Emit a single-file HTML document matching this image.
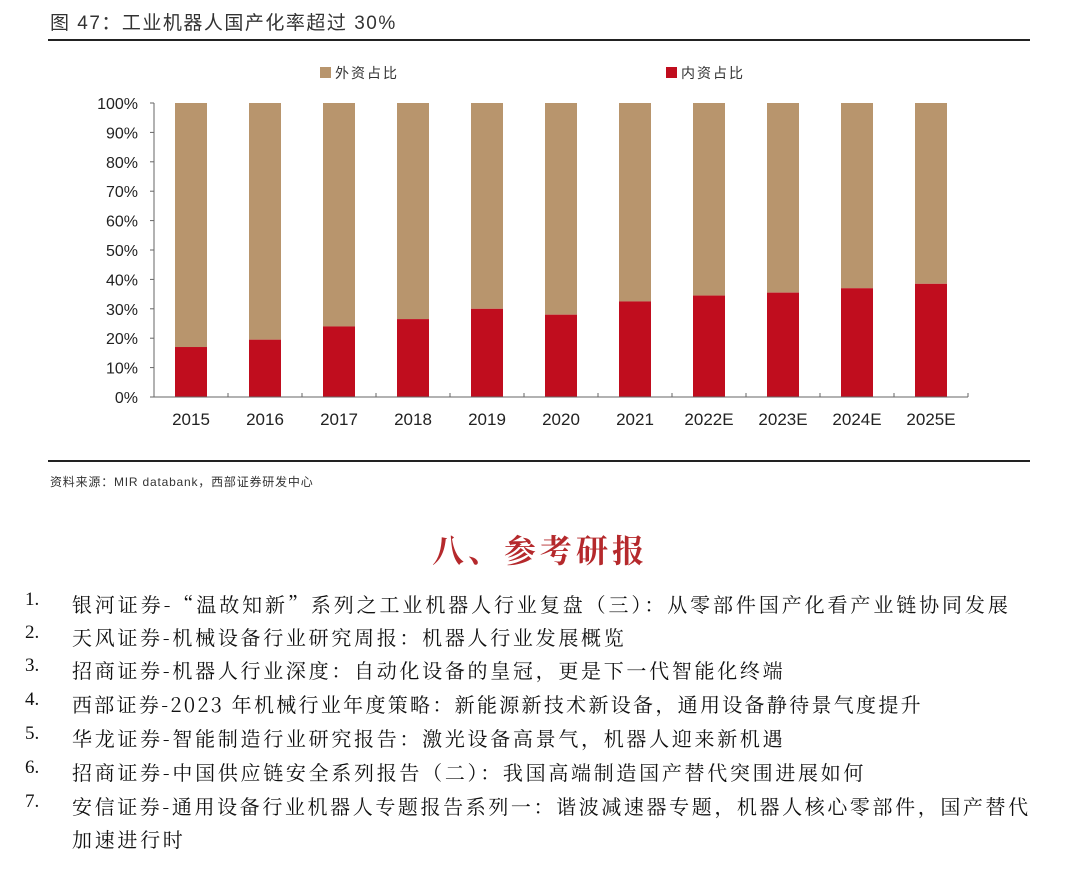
<!DOCTYPE html>
<html><head><meta charset="utf-8">
<style>
body{margin:0;width:1080px;height:879px;background:#fff;position:relative;overflow:hidden;font-family:"Liberation Sans","Noto Sans CJK SC",sans-serif;}
.abs{position:absolute;}
.li{position:absolute;left:0;font-family:"Noto Serif CJK SC","Liberation Serif",serif;font-size:20px;color:#111;white-space:nowrap;}
.li .n{position:absolute;left:25px;font-family:"Liberation Serif",serif;font-size:19px;}
.li .t{position:absolute;left:72px;letter-spacing:2.7px;}
</style></head><body>
<div class="abs" style="left:50px;top:8px;font-size:19px;color:#333;letter-spacing:1.5px;">图 47：工业机器人国产化率超过 30%</div>
<div class="abs" style="left:48px;top:39px;width:982px;height:2px;background:#222;"></div>
<svg class="abs" style="left:0;top:0" width="1080" height="470">
<g id="legend">
<rect x="320" y="67" width="11" height="11" fill="#b8956d"/>
<text x="335" y="78" font-size="14" fill="#333" letter-spacing="2" font-family="Noto Sans CJK SC,sans-serif">外资占比</text>
<rect x="666" y="67" width="11" height="11" fill="#c00d1e"/>
<text x="681" y="78" font-size="14" fill="#333" letter-spacing="2" font-family="Noto Sans CJK SC,sans-serif">内资占比</text>
</g>
<g id="plot"></g>
</svg>
<div class="abs" style="left:48px;top:460px;width:982px;height:2px;background:#222;"></div>
<div class="abs" style="left:50px;top:473px;font-size:12px;color:#333;letter-spacing:0.8px;">资料来源：MIR databank，西部证券研发中心</div>
<div class="abs" style="left:0;width:1080px;text-align:center;top:526px;font-family:'Liberation Serif','Noto Serif CJK SC',serif;font-size:32px;font-weight:bold;color:#b5292c;letter-spacing:4px;">八、参考研报</div>
<div>
<div class="li" style="top:589px"><span class="n">1.</span><span class="t" style="letter-spacing:2.9px">银河证券-“温故知新”系列之工业机器人行业复盘（三）：从零部件国产化看产业链协同发展</span></div>
<div class="li" style="top:622px"><span class="n">2.</span><span class="t">天风证券-机械设备行业研究周报：机器人行业发展概览</span></div>
<div class="li" style="top:655px"><span class="n">3.</span><span class="t">招商证券-机器人行业深度：自动化设备的皇冠，更是下一代智能化终端</span></div>
<div class="li" style="top:689px"><span class="n">4.</span><span class="t" style="letter-spacing:2.3px">西部证券-2023 年机械行业年度策略：新能源新技术新设备，通用设备静待景气度提升</span></div>
<div class="li" style="top:723px"><span class="n">5.</span><span class="t">华龙证券-智能制造行业研究报告：激光设备高景气，机器人迎来新机遇</span></div>
<div class="li" style="top:757px"><span class="n">6.</span><span class="t">招商证券-中国供应链安全系列报告（二）：我国高端制造国产替代突围进展如何</span></div>
<div class="li" style="top:791px"><span class="n">7.</span><span class="t" style="letter-spacing:2.6px">安信证券-通用设备行业机器人专题报告系列一：谐波减速器专题，机器人核心零部件，国产替代</span></div>
<div class="li" style="top:824px"><span class="t">加速进行时</span></div>
</div>
<script>
const categories=["2015","2016","2017","2018","2019","2020","2021","2022E","2023E","2024E","2025E"];
const domestic=[17,19.5,24,26.5,30,28,32.5,34.5,35.5,37,38.5];
const yTicks=[0,10,20,30,40,50,60,70,80,90,100];
const ns="http://www.w3.org/2000/svg";
const plot=document.getElementById('plot');
const x0=154,step=74,y0=397,y100=103,bw=32;
const y=v=>y0-(v/100)*(y0-y100);
const xc=i=>x0+step*(i+0.5);
function mk(t,a){const e=document.createElementNS(ns,t);for(const k in a)e.setAttribute(k,a[k]);plot.appendChild(e);return e;}
yTicks.forEach(v=>{
 const t=mk('text',{x:138,y:y(v)+6,'font-size':16,'text-anchor':'end',fill:'#222','font-family':'Liberation Sans,sans-serif'});
 t.textContent=v+'%';
 
 
 const l=mk('line',{x1:x0-4,x2:x0,y1:y(v),y2:y(v),stroke:'#666'});
 
 
});
categories.forEach((c,i)=>{
 const f=mk('rect',{x:xc(i)-bw/2,y:y(100),width:bw,height:y(domestic[i])-y(100),fill:'#b8956d'});
 
 
 const d=mk('rect',{x:xc(i)-bw/2,y:y(domestic[i]),width:bw,height:y0-y(domestic[i]),fill:'#c00d1e'});
 
 
 const t=mk('text',{x:xc(i),y:425,'font-size':17,'text-anchor':'middle',fill:'#222','font-family':'Liberation Sans,sans-serif'});
 t.textContent=c;
 
 
 const tk=mk('line',{x1:x0+step*(i+1),x2:x0+step*(i+1),y1:y0,y2:y0-4,stroke:'#666'});
 
 
});
const ya=mk('line',{x1:x0,x2:x0,y1:y100,y2:y0,stroke:'#666'});


const xa=mk('line',{x1:x0,x2:x0+step*categories.length,y1:y0,y2:y0,stroke:'#666'});


</script>
</body></html>
